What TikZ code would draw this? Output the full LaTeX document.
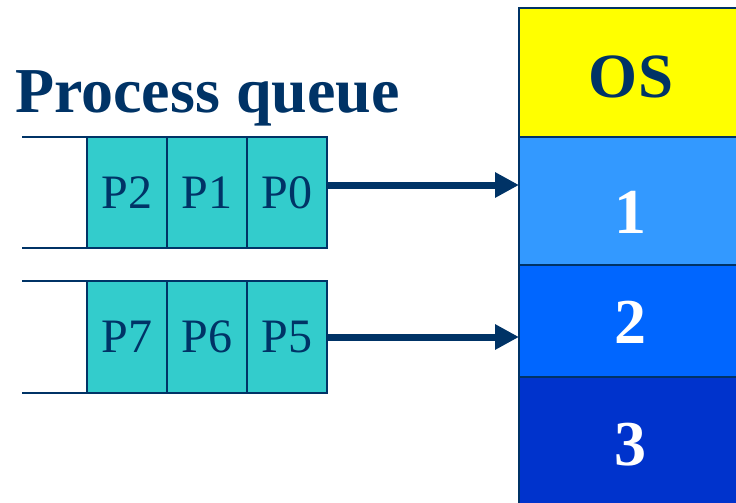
\documentclass[tikz,border=0pt]{standalone}
\usepackage{fontspec}
\setmainfont{Liberation Serif}
\usetikzlibrary{arrows.meta}
\definecolor{navy}{HTML}{003366}
\definecolor{teal2}{HTML}{33CCCC}
\definecolor{osyel}{HTML}{FFFF00}
\definecolor{mone}{HTML}{3399FF}
\definecolor{mtwo}{HTML}{0066FF}
\definecolor{mthree}{HTML}{0033CC}
\tikzset{
  pbox/.style={draw=navy, line width=2.2pt, fill=teal2, minimum width=80pt, minimum height=111pt, inner sep=0pt, text=navy, font=\fontsize{48}{50}\selectfont},
  qline/.style={draw=navy, line width=2.5pt},
  part/.style={draw=navy, line width=2pt, inner sep=0pt},
  bignum/.style={anchor=base, text=white, font=\bfseries\fontsize{64}{66}\selectfont},
  arr/.style={draw=navy, line width=7pt, -{Triangle[length=24pt,width=24pt]}, shorten >=0pt}
}
\begin{document}
\begin{tikzpicture}[x=1pt,y=-1pt]
\useasboundingbox (0,0) rectangle (736,503);
\begin{scope}
\clip (0,0) rectangle (736,503);
% memory partitions
\path[part, fill=osyel] (519,8) rectangle (760,137);
\path[part, fill=mone] (519,137) rectangle (760,265);
\path[part, fill=mtwo] (519,265) rectangle (760,377);
\path[part, fill=mthree] (519,377) rectangle (760,520);
\end{scope}
\coordinate (m1w) at (519,185);
\coordinate (m2w) at (519,337);
\node[anchor=base, text=navy, font=\bfseries\fontsize{63}{66}\selectfont] (os) at (631,97) {OS};
\node[bignum] (n1) at (630,233) {1};
\node[bignum] (n2) at (630,343) {2};
\node[bignum] (n3) at (630,465) {3};
% title
\node[anchor=base west, inner sep=0pt, text=navy, font=\bfseries\fontsize{64}{66}\selectfont] (title) at (15,112) {Process queue};
% queue 1
\coordinate (q1tl) at (22,137);
\coordinate (q1bl) at (22,248);
\node[pbox] (p2) at (127,192.5) {P2};
\node[pbox] (p1) at (207,192.5) {P1};
\node[pbox] (p0) at (287,192.5) {P0};
\draw[qline] (q1tl) -- (q1tl -| p2.west);
\draw[qline] (q1bl) -- (q1bl -| p2.west);
% queue 2
\coordinate (q2tl) at (22,281);
\coordinate (q2bl) at (22,393);
\node[pbox, minimum height=112pt] (p7) at (127,337) {P7};
\node[pbox, minimum height=112pt] (p6) at (207,337) {P6};
\node[pbox, minimum height=112pt] (p5) at (287,337) {P5};
\draw[qline] (q2tl) -- (q2tl -| p7.west);
\draw[qline] (q2bl) -- (q2bl -| p7.west);
% arrows
\draw[arr] (p0.east |- m1w) -- (m1w);
\draw[arr] (p5.east) -- (m2w);
\end{tikzpicture}
\end{document}
